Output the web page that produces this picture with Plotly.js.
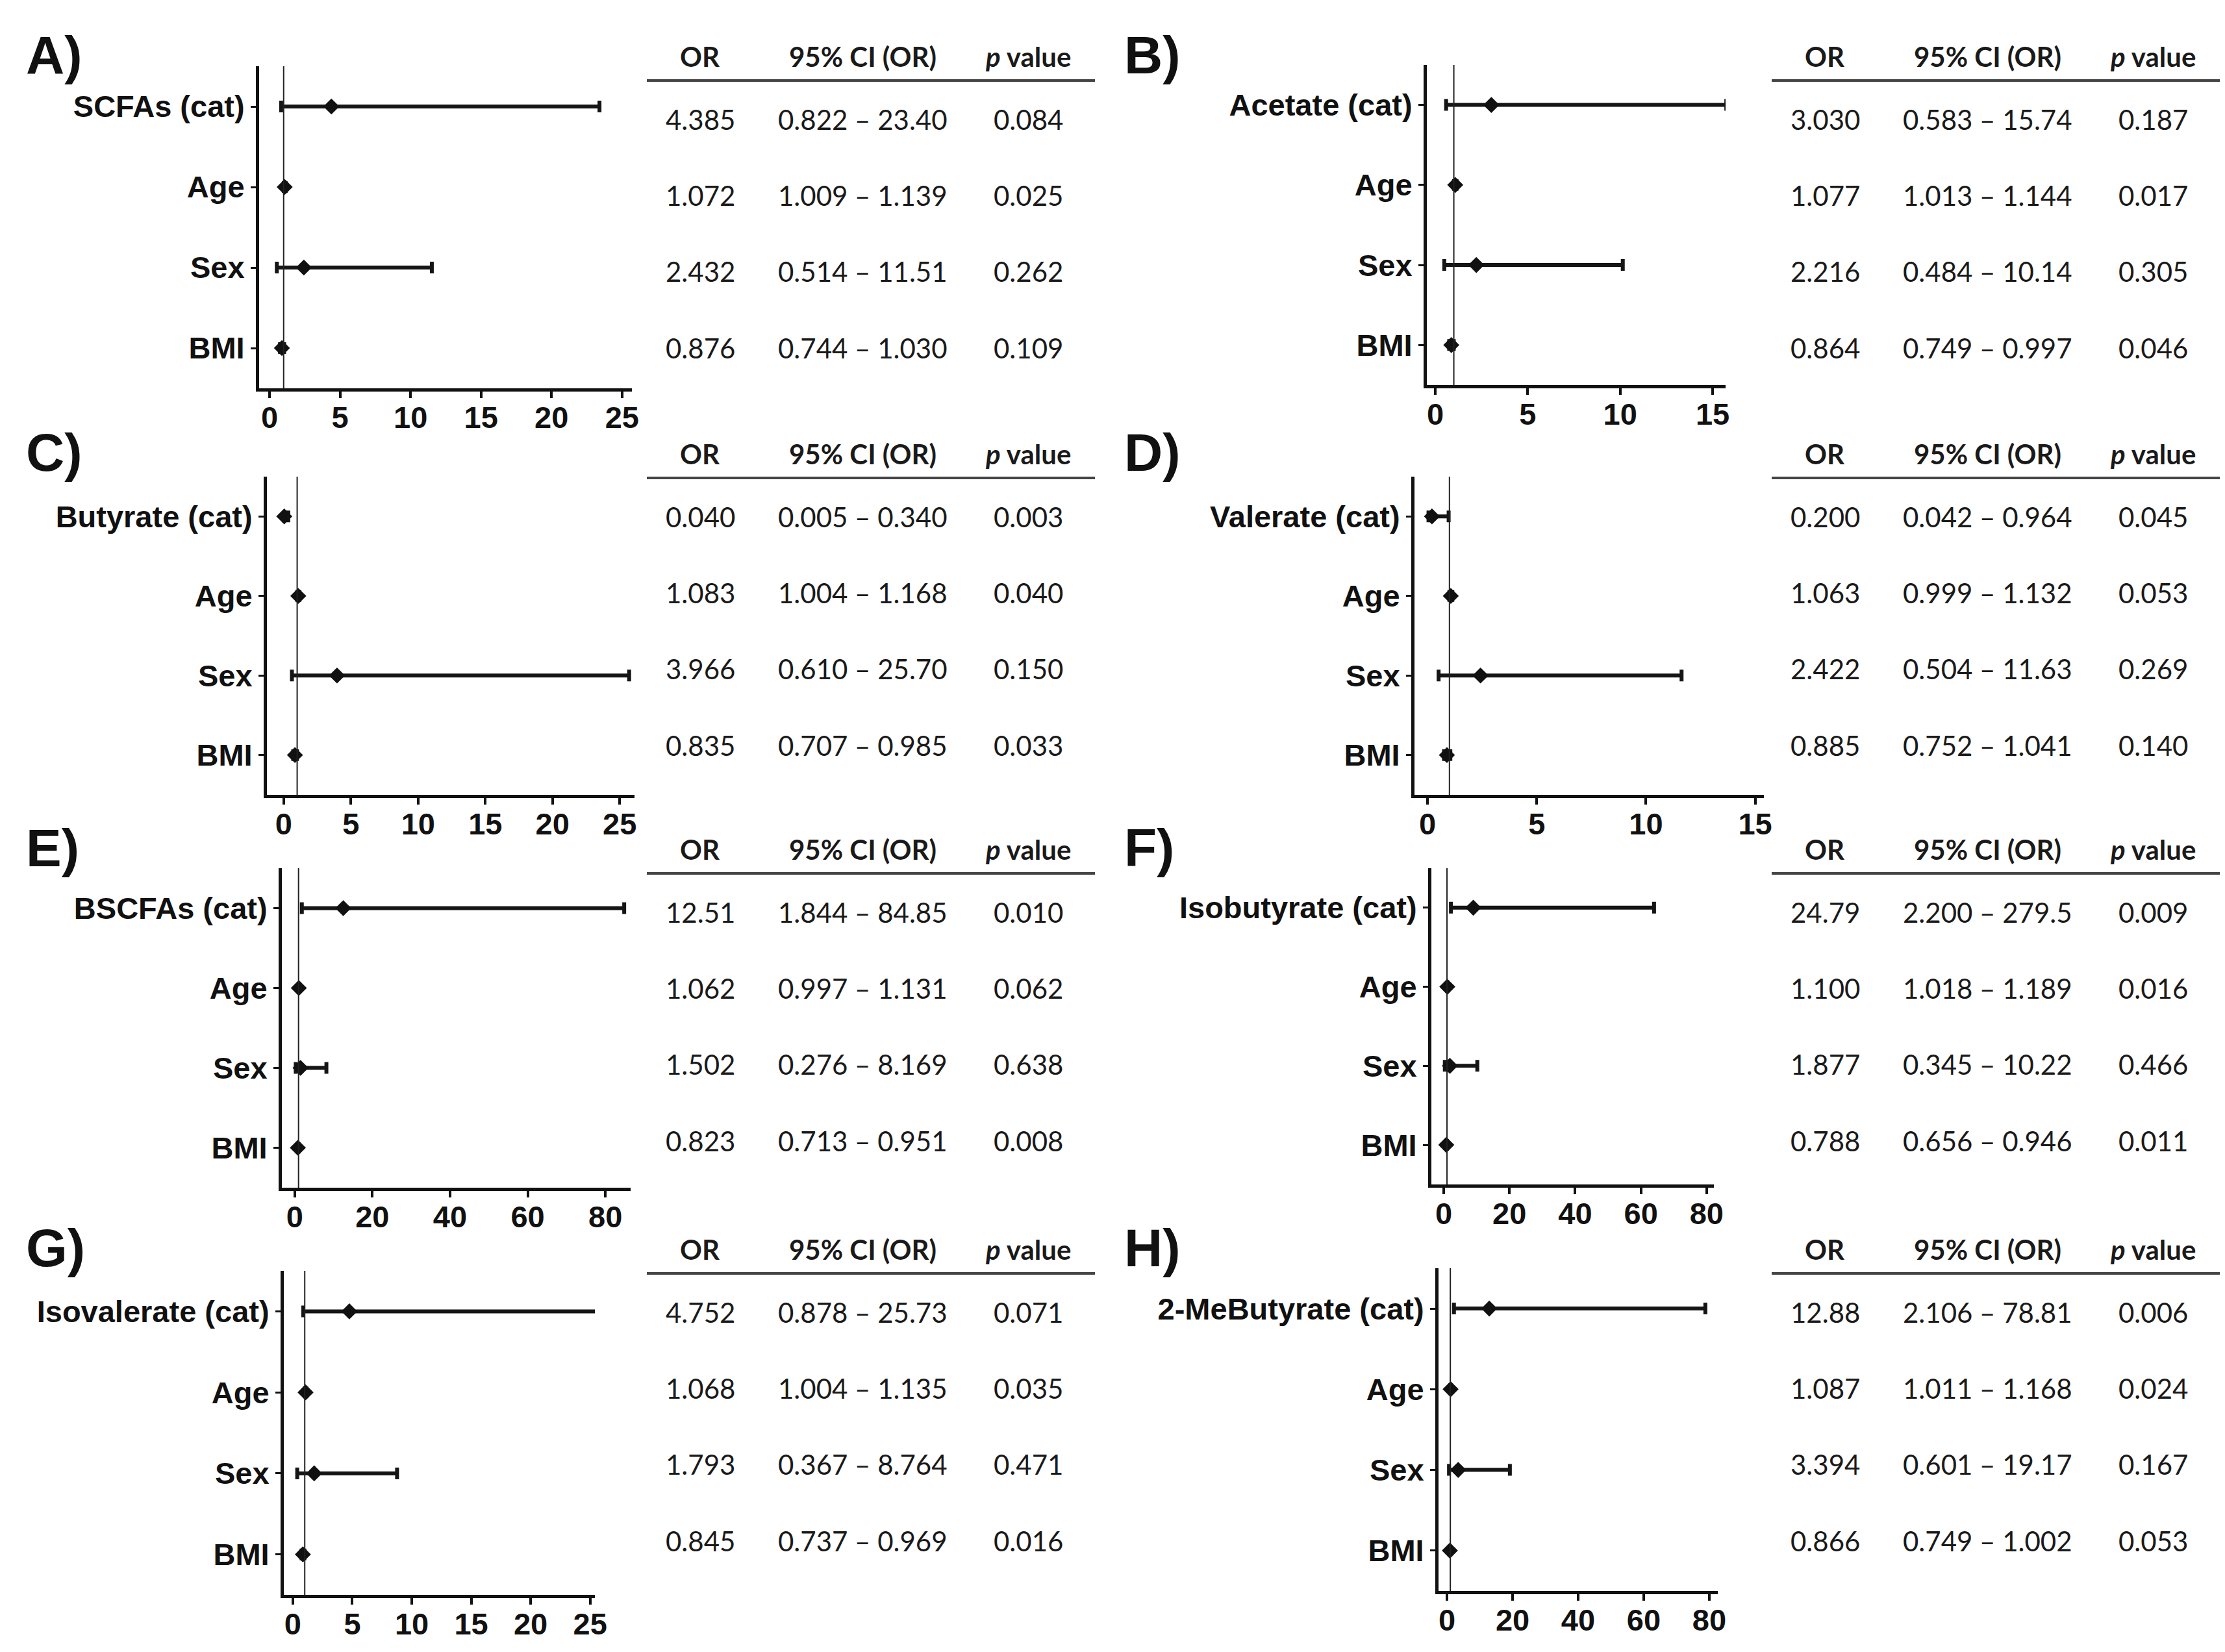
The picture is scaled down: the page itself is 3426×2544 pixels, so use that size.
<!DOCTYPE html>
<html>
<head>
<meta charset="utf-8">
<script src="https://cdn.plot.ly/plotly-3.0.1.min.js"></script>
<style>html,body{margin:0;padding:0;background:#fff;}#chart{width:3426px;height:2544px;}</style>
</head>
<body>
<div id="chart"></div>
<script>
// ---------------- DATA ----------------
const panelLetters = ['A)','B)','C)','D)','E)','F)','G)','H)'];
const covariates = ['Age','Sex','BMI'];
const exposures = ['SCFAs (cat)','Acetate (cat)','Butyrate (cat)','Valerate (cat)','BSCFAs (cat)','Isobutyrate (cat)','Isovalerate (cat)','2-MeButyrate (cat)'];
const tableHeaders = ['OR','95% CI (OR)','<i>p</i> value'];

const orA = [4.385, 1.072, 2.432, 0.876];
const loA = [0.822, 1.009, 0.514, 0.744];
const hiA = [23.40, 1.139, 11.51, 1.030];
const pA  = [0.084, 0.025, 0.262, 0.109];

const orB = [3.030, 1.077, 2.216, 0.864];
const loB = [0.583, 1.013, 0.484, 0.749];
const hiB = [15.74, 1.144, 10.14, 0.997];
const pB  = [0.187, 0.017, 0.305, 0.046];

const orC = [0.040, 1.083, 3.966, 0.835];
const loC = [0.005, 1.004, 0.610, 0.707];
const hiC = [0.340, 1.168, 25.70, 0.985];
const pC  = [0.003, 0.040, 0.150, 0.033];

const orD = [0.200, 1.063, 2.422, 0.885];
const loD = [0.042, 0.999, 0.504, 0.752];
const hiD = [0.964, 1.132, 11.63, 1.041];
const pD  = [0.045, 0.053, 0.269, 0.140];

const orE = [12.51, 1.062, 1.502, 0.823];
const loE = [1.844, 0.997, 0.276, 0.713];
const hiE = [84.85, 1.131, 8.169, 0.951];
const pE  = [0.010, 0.062, 0.638, 0.008];

const orF = [24.79, 1.100, 1.877, 0.788];
const loF = [2.200, 1.018, 0.345, 0.656];
const hiF = [279.5, 1.189, 10.22, 0.946];
const pF  = [0.009, 0.016, 0.466, 0.011];
// panel F: the drawn interval for the exposure row (differs from its table)
const orPlotF = [9.0, 1.100, 1.877, 0.788];
const loPlotF = [2.2, 1.018, 0.345, 0.656];
const hiPlotF = [64.0, 1.189, 10.22, 0.946];

const orG = [4.752, 1.068, 1.793, 0.845];
const loG = [0.878, 1.004, 0.367, 0.737];
const hiG = [25.73, 1.135, 8.764, 0.969];
const pG  = [0.071, 0.035, 0.471, 0.016];

const orH = [12.88, 1.087, 3.394, 0.866];
const loH = [2.106, 1.011, 0.601, 0.749];
const hiH = [78.81, 1.168, 19.17, 1.002];
const pH  = [0.006, 0.024, 0.167, 0.053];

const referenceOR = 1;

// ---------------- LAYOUT GEOMETRY (pixels) ----------------
const W = 3426, H = 2544;
const geom = [
  {axL:399,  axR:973,  top:102,  bot:598,  xr:[-0.74,25.7], dt:5,  col:0,    ty:87},
  {axL:2197, axR:2657, top:100,  bot:593,  xr:[-0.46,15.7], dt:5,  col:1732, ty:87},
  {axL:411,  axR:977,  top:734,  bot:1224, xr:[-1.25,26.1], dt:5,  col:0,    ty:699},
  {axL:2178, axR:2716, top:734,  bot:1224, xr:[-0.6,15.4],  dt:5,  col:1732, ty:699},
  {axL:434,  axR:971,  top:1337, bot:1829, xr:[-3.3,86.5],  dt:20, col:0,    ty:1308},
  {axL:2204, axR:2639, top:1337, bot:1824, xr:[-3.75,82.2], dt:20, col:1732, ty:1308},
  {axL:437,  axR:916,  top:1957, bot:2456, xr:[-0.76,25.4], dt:5,  col:0,    ty:1924},
  {axL:2215, axR:2645, top:1953, bot:2450, xr:[-2.6,82.6],  dt:20, col:1732, ty:1924}
];
const letterX = [38, 1729];

const plotted = [
  [orA,loA,hiA],[orB,loB,hiB],[orC,loC,hiC],[orD,loD,hiD],
  [orE,loE,hiE],[orPlotF,loPlotF,hiPlotF],[orG,loG,hiG],[orH,loH,hiH]
];
const tabled = [
  [orA,loA,hiA,pA],[orB,loB,hiB,pB],[orC,loC,hiC,pC],[orD,loD,hiD,pD],
  [orE,loE,hiE,pE],[orF,loF,hiF,pF],[orG,loG,hiG,pG],[orH,loH,hiH,pH]
];

function fmt(v){ return v >= 1 ? v.toPrecision(4) : v.toFixed(3); }
const fx = p => p / W;
const fy = p => 1 - p / H;

const axisFont = {family:'Liberation Sans, Arial, sans-serif', size:47, color:'#111', weight:'bold'};
const tabFont  = {family:'Lato, Open Sans, sans-serif', size:42, color:'#1a1a1a'};
const headFont = {family:'Lato, Open Sans, sans-serif', size:42, color:'#1a1a1a', weight:'bold'};

const traces = [];
const layout = {
  width: W, height: H,
  margin: {l:0, r:0, t:0, b:0},
  paper_bgcolor:'#ffffff', plot_bgcolor:'#ffffff',
  showlegend:false,
  annotations: [], shapes: []
};

geom.forEach((g, i) => {
  const sfx = i === 0 ? '' : String(i + 1);
  const xa = 'x' + sfx, ya = 'y' + sfx;
  const cats = [exposures[i]].concat(covariates);
  const [orv, lov, hiv] = plotted[i];
  traces.push({
    type:'scatter', mode:'markers', xaxis:xa, yaxis:ya,
    x: orv, y: cats,
    marker:{symbol:'diamond', size:19, color:'#111'},
    error_x:{type:'data', symmetric:false,
      array: hiv.map((h,k)=>h-orv[k]), arrayminus: lov.map((l,k)=>orv[k]-l),
      color:'#151515', thickness:6, width:9},
    hoverinfo:'skip'
  });
  layout['xaxis' + sfx] = {
    domain:[fx(g.axL), fx(g.axR)], anchor: ya, range: g.xr,
    showgrid:false, zeroline:false, showline:true, linecolor:'#111', linewidth:5,
    ticks:'outside', ticklen:10, tickwidth:4, tickcolor:'#111',
    ticklabelstandoff:-10,
    tick0:0, dtick:g.dt, tickfont: axisFont, fixedrange:true
  };
  layout['yaxis' + sfx] = {
    domain:[fy(g.bot), fy(g.top)], anchor: xa, type:'category',
    categoryorder:'array', categoryarray: cats, range:[3.5, -0.5],
    showgrid:false, zeroline:false, showline:true, linecolor:'#111', linewidth:5,
    ticks:'outside', ticklen:8, tickwidth:3, tickcolor:'#111',
    tickfont: axisFont, fixedrange:true
  };
  // reference line at OR = 1
  layout.shapes.push({type:'line', xref:xa, yref: ya + ' domain', x0:referenceOR, x1:referenceOR, y0:0, y1:1,
    line:{color:'#222', width:2}});
  // panel letter
  layout.annotations.push({text:'<b>' + panelLetters[i] + '</b>', xref:'paper', yref:'paper',
    x: fx(letterX[i % 2]), y: fy(g.ty - 3), xanchor:'left', yanchor:'middle', showarrow:false,
    font:{family:'Liberation Sans, Arial, sans-serif', size:82, color:'#111'}});
  // table
  const colX = [1078 + g.col, 1328 + g.col, 1583 + g.col];
  tableHeaders.forEach((h, c) => {
    layout.annotations.push({text:'<b>' + h + '</b>', xref:'paper', yref:'paper',
      x: fx(colX[c]), y: fy(g.ty), xanchor:'center', yanchor:'middle', showarrow:false, font: headFont});
  });
  layout.shapes.push({type:'line', xref:'paper', yref:'paper',
    x0: fx(996 + g.col), x1: fx(1686 + g.col), y0: fy(g.ty + 37), y1: fy(g.ty + 37),
    line:{color:'#444', width:4}});
  const [tor, tlo, thi, tp] = tabled[i];
  tor.forEach((v, r) => {
    const yy = fy(g.ty + 97 + r * 117.2);
    const cells = [fmt(v), fmt(tlo[r]) + ' \u2013 ' + fmt(thi[r]), tp[r].toFixed(3)];
    cells.forEach((t, c) => {
      layout.annotations.push({text:t, xref:'paper', yref:'paper', x: fx(colX[c]), y: yy,
        xanchor:'center', yanchor:'middle', showarrow:false, font: tabFont});
    });
  });
});

Plotly.newPlot('chart', traces, layout, {staticPlot:true, displayModeBar:false});
</script>
</body>
</html>
